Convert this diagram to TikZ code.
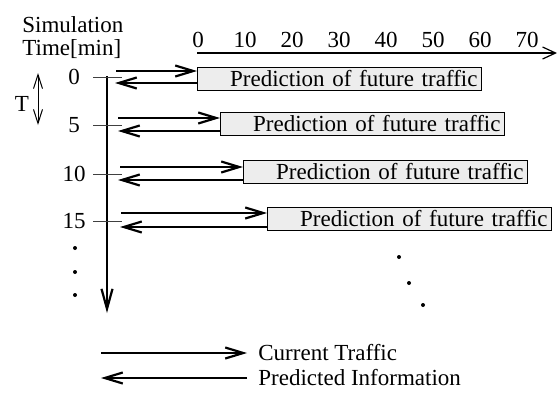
\documentclass[tikz,border=0pt]{standalone}
\usepackage{fontspec}
\setmainfont{Liberation Serif}
\usetikzlibrary{arrows.meta}
\begin{document}
\begin{tikzpicture}[x=0.5pt,y=-0.5pt,
  font=\fontsize{11.5}{13.8}\selectfont,
  flow/.style={line width=1.1pt,-{Straight Barb[length=9pt,width=5.5pt]}},
  tickline/.style={line width=0.5pt,draw=black!75},
  predbox/.style={draw=black,line width=0.5pt,fill=black!7,minimum height=11.5pt,
    inner xsep=2pt,inner ysep=0pt,text width=138pt,align=right,anchor=north west},
  lbl/.style={inner sep=0pt},
  dotmark/.style={fill=black,circle,inner sep=0pt,minimum size=2pt}]
\useasboundingbox (0,0) rectangle (557,392);
% header
\node[lbl,anchor=base west] (sim) at (22,32) {Simulation};
\node[lbl,anchor=base west] (tmin) at (22,55) {Time[min]};
% horizontal axis
\coordinate (hx0) at (197,53);
\coordinate (hx1) at (557,53);
\draw[line width=0.6pt,-{Straight Barb[length=6.5pt,width=6pt]}] (hx0) -- (hx1);
\foreach \v/\x in {0/198,10/245,20/292,30/339,40/386,50/433,60/480,70/527}
  \node[lbl] (h\v) at (\x,40) {\v};
% vertical axis
\coordinate (vt) at (107,76);
\coordinate (vb) at (107,313);
\draw[line width=1.1pt,-{Straight Barb[length=10pt,width=5.5pt]}] (vt) -- (vb);
% T arrow
\coordinate (ta) at (38,73);
\coordinate (tb) at (38,125);
\draw[line width=0.5pt,{Straight Barb[length=7pt,width=4.5pt]}-{Straight Barb[length=7pt,width=4.5pt]}] (ta) -- (tb);
\node[lbl] (tlab) at (22,104) {T};
% rows
\foreach \n/\ty/\bx/\by/\rx/\ry/\lx/\ly in {
   0/77/197/67/116/71/115/83,
   5/125/220/112/118/118/118/131,
   10/174/243/160/120/167/118/180,
   15/221/267/207/121/213/120/227}{
  \node[lbl] (lab\n) at (74,\ty) {\n};
  \coordinate (tk\n a) at (93,\ty);
  \coordinate (tk\n b) at (122,\ty);
  \draw[tickline] (tk\n a) -- (tk\n b);
  \node[predbox] (box\n) at (\bx,\by) {Prediction of future traffic};
  \coordinate (rs\n) at (\rx,\ry);
  \coordinate (ls\n) at (\lx,\ly);
  \draw[flow] (rs\n) -- (rs\n -| box\n.west);
  \draw[flow] (ls\n -| box\n.west) -- (ls\n);
}
% dots
\node[dotmark] (d1) at (75,248) {};
\node[dotmark] (d2) at (75,272) {};
\node[dotmark] (d3) at (75,295) {};
\node[dotmark] (d4) at (399,257) {};
\node[dotmark] (d5) at (409,283) {};
\node[dotmark] (d6) at (423,305) {};
% legend
\coordinate (la) at (101,353);
\coordinate (lb) at (247,353);
\coordinate (lc) at (247,378);
\coordinate (ld) at (101,378);
\draw[flow] (la) -- (lb);
\draw[flow] (lc) -- (ld);
\node[lbl,anchor=west] (cur) at (258,353) {Current Traffic};
\node[lbl,anchor=west] (pred) at (258,378) {Predicted Information};
\end{tikzpicture}
\end{document}
